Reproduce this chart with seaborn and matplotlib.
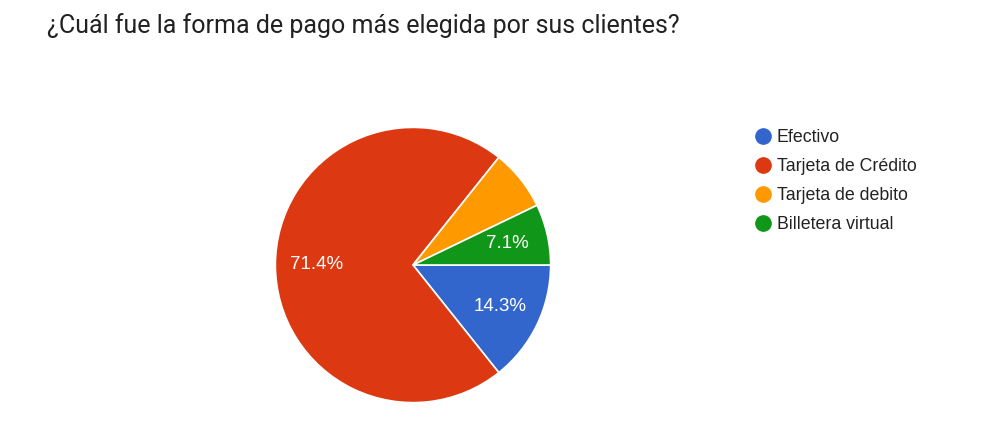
import matplotlib
matplotlib.use('Agg')
import matplotlib.pyplot as plt
from matplotlib.lines import Line2D
import seaborn as sns

categories = ['Efectivo', 'Tarjeta de Crédito', 'Tarjeta de debito', 'Billetera virtual']
counts = [2, 10, 1, 1]
show_label = [True, True, False, True]
colors = ['#3366cc', '#dc3912', '#ff9900', '#109618']

sns.set_theme(style='white')
plt.rcParams['font.family'] = ['Liberation Sans', 'DejaVu Sans']

fig = plt.figure(figsize=(9.86, 4.3), dpi=100)
fig.patch.set_facecolor('white')

fig.text(47 / 986, 1 - 26 / 430, '¿Cuál fue la forma de pago más elegida por sus clientes?',
         fontsize=18, color='#212121', family=['Roboto', 'DejaVu Sans'],
         ha='left', va='center')

ax = fig.add_axes([274 / 986, 26 / 430, 278 / 986, 278 / 430])
wedges, texts, autotexts = ax.pie(
    counts, colors=sns.color_palette(colors), startangle=0, counterclock=False,
    radius=1, autopct=lambda p: f'{p:.1f}%', pctdistance=0.7,
    wedgeprops=dict(edgecolor='white', linewidth=1.2),
    textprops=dict(color='white', fontsize=13.5))
for t, s in zip(autotexts, show_label):
    if not s:
        t.set_text('')
ax.set_xlim(-1.01, 1.01)
ax.set_ylim(-1.01, 1.01)
ax.set_aspect('equal')
ax.axis('off')

handles = [Line2D([0], [0], marker='o', linestyle='', markersize=11,
                  markerfacecolor=c, markeredgecolor=c) for c in colors]
fig.legend(handles, categories, loc='upper left',
           bbox_to_anchor=(752 / 986, 1 - 129 / 430), frameon=False,
           fontsize=12.8, labelcolor='#222222', handletextpad=0.2,
           labelspacing=0.68, handlelength=1.2, borderpad=0, borderaxespad=0)

fig.savefig('out.png', dpi=100, facecolor='white')
